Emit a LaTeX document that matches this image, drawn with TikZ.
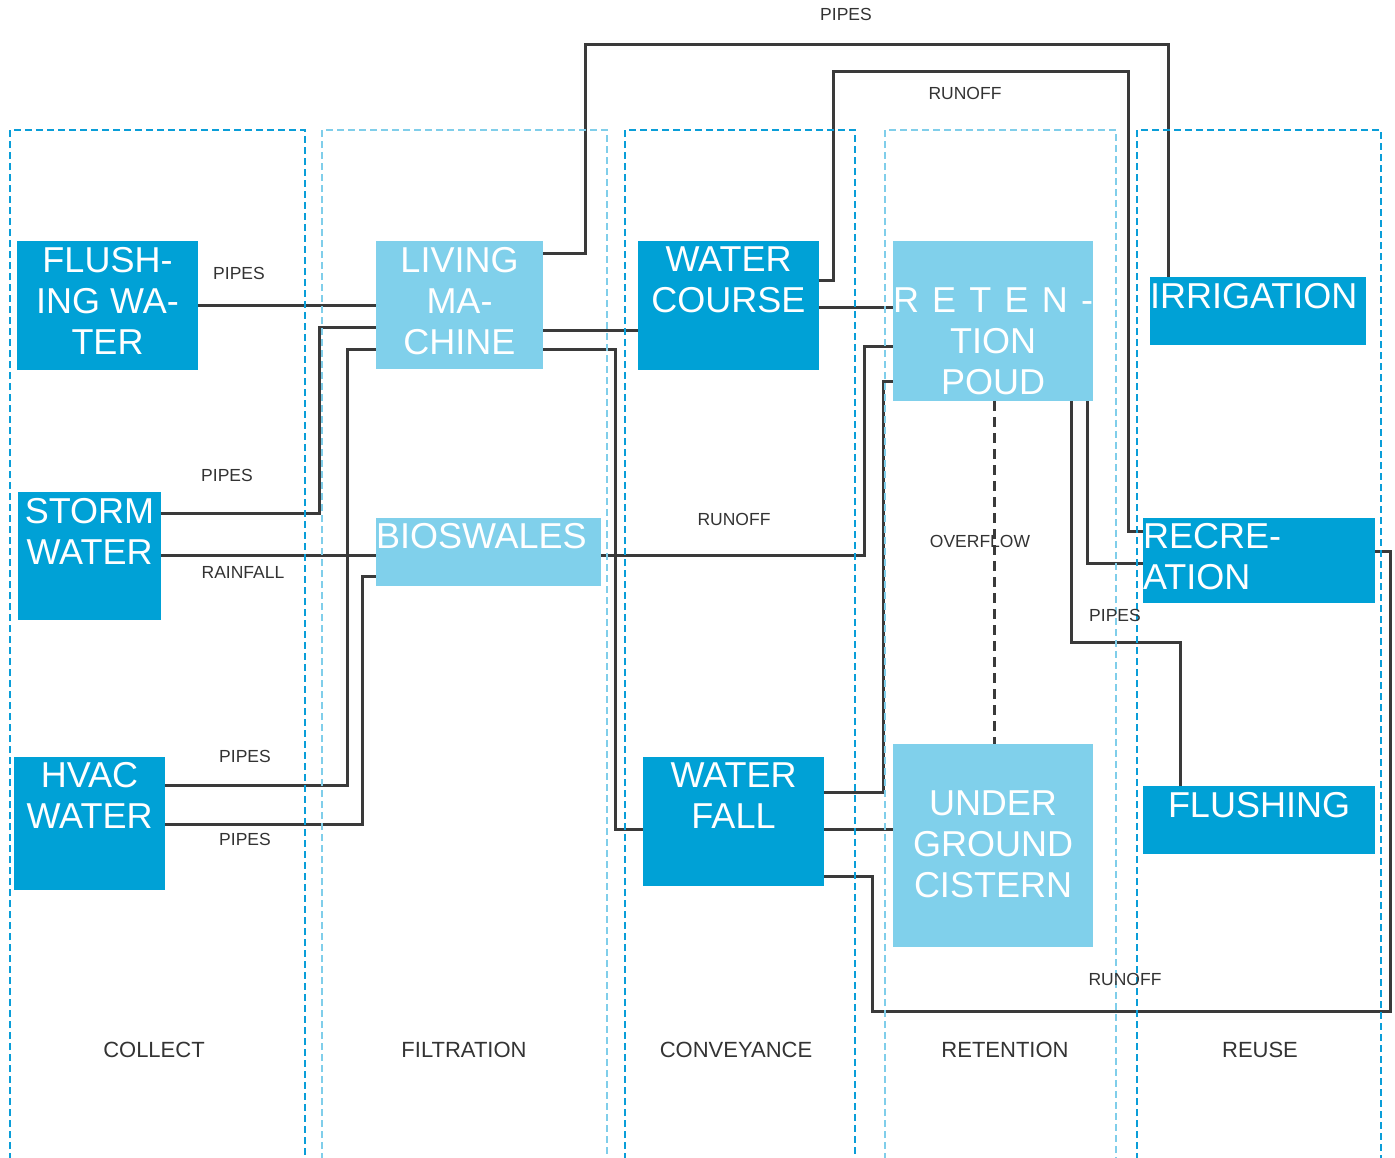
\documentclass[tikz,border=0pt]{standalone}
\usepackage{fontspec}
\setmainfont{Liberation Sans}
\definecolor{dkblue}{RGB}{0,161,214}
\definecolor{ltblue}{RGB}{128,208,235}
\definecolor{lanedk}{RGB}{10,158,216}
\definecolor{lanelt}{RGB}{128,206,234}
\definecolor{linegray}{RGB}{58,58,58}
\definecolor{txtgray}{RGB}{51,51,51}
\newcommand\bxt[5]{\parbox[t][#2pt][t]{#1pt}{\fontsize{36}{41}\selectfont\vspace*{#3pt}#4#5}}
\tikzset{
  dbox/.style={fill=dkblue, text=white, inner sep=0pt, outer sep=0pt, anchor=north west},
  lbox/.style={fill=ltblue, text=white, inner sep=0pt, outer sep=0pt, anchor=north west},
  conn/.style={draw=linegray, line width=3pt},
  overflowline/.style={draw=linegray, line width=3pt, dash pattern=on 10pt off 6pt},
  lanedark/.style={draw=lanedk, line width=2pt, dash pattern=on 7pt off 4pt},
  lanelight/.style={draw=lanelt, line width=2pt, dash pattern=on 7pt off 4pt},
  lbl/.style={text=txtgray, inner sep=0pt, font=\fontsize{17.5}{20}\selectfont},
  lanelbl/.style={text=txtgray, inner sep=0pt, font=\fontsize{22}{26}\selectfont}
}
\begin{document}
\begin{tikzpicture}[x=1pt, y=-1pt]
\useasboundingbox (0,0) rectangle (1395,1157);

% boxes
\node[dbox] (fw) at (17,241) {\bxt{181}{129}{6}{\centering}{FLUSH-\\ING WA-\\TER}};
\node[lbox] (lm) at (376,241) {\bxt{167}{128}{6}{\centering}{LIVING\\MA-\\CHINE}};
\node[dbox] (sw) at (18,492) {\bxt{143}{128}{6}{\centering}{STORM\\WATER}};
\node[lbox] (bs) at (376,518) {\bxt{225}{68}{5}{\raggedright}{BIOSWALES}};
\node[dbox] (hv) at (14,757) {\bxt{151}{133}{5}{\centering}{HVAC\\WATER}};
\node[dbox] (wc) at (638,241) {\bxt{181}{129}{6}{\centering}{WATER\\COURSE}};
\node[dbox] (wf) at (643,757) {\bxt{181}{129}{6}{\centering}{WATER\\FALL}};
\node[lbox] (rp) at (893,241) {\bxt{200}{160}{47}{\centering}{\makebox[200pt][s]{R E T E N -}\\TION\\POUD}};
\node[lbox] (uc) at (893,744) {\bxt{200}{203}{47}{\centering}{UNDER\\GROUND\\CISTERN}};
\node[dbox] (ir) at (1150,277) {\bxt{216}{68}{6}{\raggedright}{IRRIGATION}};
\node[dbox] (rc) at (1143,518) {\bxt{232}{85}{5}{\raggedright}{RECRE-\\ATION}};
\node[dbox] (fl) at (1143,786) {\bxt{232}{68}{6}{\centering}{FLUSHING}};

% connectors
\draw[conn] (fw.east |- 0,305) -- (lm.west |- 0,305);
\draw[conn] (sw.east |- 0,513) -| (319,327) -- (lm.west |- 0,327);
\draw[conn] (sw.east |- 0,555) -- (bs.west |- 0,555);
\draw[conn] (hv.east |- 0,785) -| (347,349) -- (lm.west |- 0,349);
\draw[conn] (hv.east |- 0,824) -| (362,576) -- (bs.west |- 0,576);
\draw[conn] (lm.east |- 0,253) -| (585,44) -- (1168,44) -- (1168,0 |- ir.north);
\draw[conn] (lm.east |- 0,330) -- (wc.west |- 0,330);
\draw[conn] (lm.east |- 0,349) -| (615,829) -- (wf.west |- 0,829);
\draw[conn] (wc.east |- 0,307) -- (rp.west |- 0,307);
\draw[conn] (wc.east |- 0,280) -| (833,71) -| (1128,531) -- (rc.west |- 0,531);
\draw[conn] (bs.east |- 0,555) -| (864,346) -- (rp.west |- 0,346);
\draw[conn] (1087,0 |- rp.south) -- (1087,563) -- (rc.west |- 0,563);
\draw[conn] (1071,0 |- rp.south) -- (1071,642) -| (1180,0 |- fl.north);
\draw[overflowline] (994,0 |- rp.south) -- (994,0 |- uc.north);
\draw[conn] (wf.east |- 0,792) -| (883,381) -- (rp.west |- 0,381);
\draw[conn] (wf.east |- 0,829) -- (uc.west |- 0,829);
\draw[conn] (wf.east |- 0,876) -| (872,1011) -| (1390,551) -- (rc.east |- 0,551);

% lanes
\draw[lanedark] (10,1160) -- (10,130) -- (305,130) -- (305,1160);
\draw[lanelight] (322,1160) -- (322,130) -- (607,130) -- (607,1160);
\draw[lanedark] (625,1160) -- (625,130) -- (855,130) -- (855,1160);
\draw[lanelight] (885,1160) -- (885,130) -- (1116,130) -- (1116,1160);
\draw[lanedark] (1137,1160) -- (1137,130) -- (1381,130) -- (1381,1160);

% connector labels
\node[lbl] (l1) at (239,273) {PIPES};
\node[lbl] (l2) at (227,475) {PIPES};
\node[lbl] (l3) at (243,572) {RAINFALL};
\node[lbl] (l4) at (245,756) {PIPES};
\node[lbl] (l5) at (245,839) {PIPES};
\node[lbl] (l6) at (846,14) {PIPES};
\node[lbl] (l7) at (965,93) {RUNOFF};
\node[lbl] (l8) at (734,519) {RUNOFF};
\node[lbl] (l9) at (980,541) {OVERFLOW};
\node[lbl] (l10) at (1115,615) {PIPES};
\node[lbl] (l11) at (1125,979) {RUNOFF};

% lane labels
\node[lanelbl] (c1) at (154,1050) {COLLECT};
\node[lanelbl] (c2) at (464,1050) {FILTRATION};
\node[lanelbl] (c3) at (736,1050) {CONVEYANCE};
\node[lanelbl] (c4) at (1005,1050) {RETENTION};
\node[lanelbl] (c5) at (1260,1050) {REUSE};
\end{tikzpicture}
\end{document}
